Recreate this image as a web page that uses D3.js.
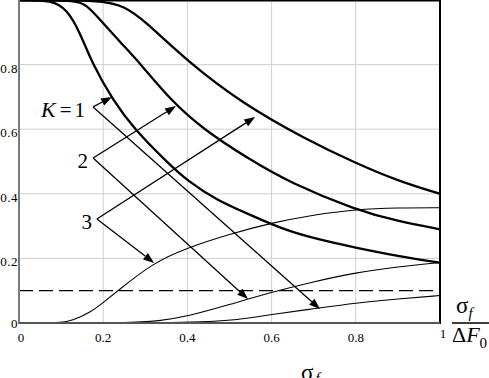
<!DOCTYPE html>
<html>
<head>
<meta charset="utf-8">
<script src="https://cdn.jsdelivr.net/npm/d3@7"></script>
<style>
  body { margin: 0; background: #fff; }
  svg { display: block; }
</style>
</head>
<body>
<div class="chart"></div>
<script>
// ---- data ----
const ticks = [0, 0.2, 0.4, 0.6, 0.8, 1];
const yTickLabels = ['0', '0.2', '0.4', '0.6', '0.8'];
const xTickLabels = ['0', '0.2', '0.4', '0.6', '0.8', '1'];

// thick curves, decreasing
const thickK1 = [[0,1],[0.08,1],[0.114,0.97],[0.145,0.9],[0.173,0.805],[0.223,0.69],[0.274,0.6],[0.35,0.5],[0.4,0.44],[0.47,0.38],[0.549,0.335],[0.627,0.29],[0.7,0.262],[0.8,0.233],[0.9,0.207],[1,0.187]];
const thickK2 = [[0,1],[0.133,1],[0.16,0.985],[0.192,0.94],[0.24,0.87],[0.287,0.805],[0.36,0.69],[0.437,0.6],[0.549,0.505],[0.644,0.434],[0.8,0.35],[0.9,0.315],[1,0.29]];
const thickK3 = [[0,1],[0.2,1],[0.25,0.98],[0.295,0.94],[0.4,0.81],[0.53,0.68],[0.684,0.567],[0.8,0.495],[0.9,0.44],[1,0.4]];

// thin curves, increasing
const thinK3 = [[0,0],[0.097,0],[0.126,0.007],[0.169,0.032],[0.2,0.063],[0.233,0.098],[0.318,0.186],[0.4,0.233],[0.5,0.275],[0.6,0.31],[0.7,0.335],[0.8,0.352],[0.9,0.357],[1,0.357]];
const thinK2 = [[0,0],[0.27,0],[0.33,0.006],[0.4,0.02],[0.5,0.057],[0.596,0.094],[0.7,0.128],[0.8,0.156],[0.9,0.174],[1,0.187]];
const thinK1 = [[0,0],[0.41,0],[0.525,0.01],[0.596,0.026],[0.7,0.044],[0.8,0.062],[0.9,0.075],[1,0.085]];

const threshold = 0.1;

// annotation labels: origin point and arrow tips, in data units
const labels = [
  { italic: 'K', rest: '=1', from: [0.176, 0.669], tips: [[0.221, 0.700], [0.715, 0.043]] },
  { italic: '', rest: '2', from: [0.176, 0.511], tips: [[0.373, 0.672], [0.544, 0.074]] },
  { italic: '', rest: '3', from: [0.185, 0.322], tips: [[0.561, 0.638], [0.321, 0.186]] }
];

// ---- setup ----
const outerW = 489, outerH = 378;
const margin = { left: 19, right: 49, top: 0, bottom: 55 };
const serif = '"Times New Roman", "Liberation Serif", serif';

const x = d3.scaleLinear().domain([0, 1]).range([margin.left, outerW - margin.right]);
const y = d3.scaleLinear().domain([0, 1]).range([outerH - margin.bottom, margin.top]);

const svg = d3.select('.chart').append('svg')
  .attr('width', outerW)
  .attr('height', outerH)
  .attr('font-family', serif);

svg.append('clipPath').attr('id', 'plot')
  .append('rect')
  .attr('x', x(0)).attr('y', y(1))
  .attr('width', x(1) - x(0)).attr('height', y(0) - y(1));

// grid
const grid = svg.append('g').attr('stroke', '#cfcfcf').attr('stroke-width', 1);
grid.selectAll('.vg')
  .data(ticks.slice(1, -1))
  .enter().append('line')
  .attr('x1', d => x(d)).attr('x2', d => x(d))
  .attr('y1', y(0)).attr('y2', y(1));
grid.selectAll('.hg')
  .data(ticks.slice(1, -1))
  .enter().append('line')
  .attr('y1', d => y(d)).attr('y2', d => y(d))
  .attr('x1', x(0)).attr('x2', x(1));

// tick labels
svg.append('g').attr('font-size', 13)
  .selectAll('text')
  .data(yTickLabels)
  .enter().append('text')
  .attr('x', x(0) - 1)
  .attr('y', (d, i) => y(ticks[i]) + (i === 0 ? 5 : 8))
  .attr('text-anchor', 'end')
  .attr('letter-spacing', 0.5)
  .text(d => d);

svg.append('g').attr('font-size', 13)
  .selectAll('text')
  .data(xTickLabels)
  .enter().append('text')
  .attr('x', (d, i) => x(ticks[i]) + (i === 0 ? 2 : i === 5 ? 3 : 0))
  .attr('y', (d, i) => y(0) + (i === 5 ? 15 : 19))
  .attr('text-anchor', 'middle')
  .text(d => d);

// dashed level
svg.append('line')
  .attr('x1', x(0)).attr('x2', x(1))
  .attr('y1', y(threshold)).attr('y2', y(threshold))
  .attr('stroke', '#000').attr('stroke-width', 1.2)
  .attr('stroke-dasharray', '14,6');

// curves
const line = d3.line()
  .x(d => x(d[0]))
  .y(d => y(d[1]))
  .curve(d3.curveBasis);

const curves = svg.append('g').attr('clip-path', 'url(#plot)').attr('fill', 'none').attr('stroke', '#000');

curves.append('g')
  .attr('stroke-width', 2.3)
  .selectAll('path')
  .data([thickK1, thickK2, thickK3])
  .enter().append('path')
  .attr('d', line);

curves.append('g')
  .attr('stroke-width', 1.1)
  .selectAll('path')
  .data([thinK3, thinK2, thinK1])
  .enter().append('path')
  .attr('d', line);

// frame
svg.append('line').attr('x1', x(0)).attr('x2', x(1)).attr('y1', y(1) + 0.8).attr('y2', y(1) + 0.8)
  .attr('stroke', '#000').attr('stroke-width', 1.6);
svg.append('line').attr('x1', x(1)).attr('x2', x(1)).attr('y1', y(1)).attr('y2', y(0) + 1)
  .attr('stroke', '#000').attr('stroke-width', 2);
svg.append('line').attr('x1', x(0)).attr('x2', x(0)).attr('y1', y(1)).attr('y2', y(0) + 1)
  .attr('stroke', '#7a7a7a').attr('stroke-width', 2);
svg.append('line').attr('x1', x(0)).attr('x2', x(1)).attr('y1', y(0)).attr('y2', y(0))
  .attr('stroke', '#555').attr('stroke-width', 2);

// annotations
const ann = svg.append('g');
labels.forEach(l => {
  const ox = x(l.from[0]), oy = y(l.from[1]);
  l.tips.forEach(t => {
    const tx = x(t[0]), ty = y(t[1]);
    const a = Math.atan2(ty - oy, tx - ox);
    const len = 11, hw = 4;
    const bx = tx - len * Math.cos(a), by = ty - len * Math.sin(a);
    ann.append('line')
      .attr('x1', ox).attr('y1', oy).attr('x2', bx).attr('y2', by)
      .attr('stroke', '#000').attr('stroke-width', 1.3);
    ann.append('path')
      .attr('d', `M${tx},${ty}L${bx + hw * Math.sin(a)},${by - hw * Math.cos(a)}L${bx - hw * Math.sin(a)},${by + hw * Math.cos(a)}Z`)
      .attr('fill', '#000');
  });
  ann.append('text')
    .attr('x', ox - 5)
    .attr('y', oy + 10)
    .attr('text-anchor', 'end')
    .attr('font-size', 21)
    .attr('letter-spacing', l.italic ? 3 : 0)
    .text(l.rest);
  if (l.italic) {
    ann.append('text')
      .attr('x', ox - 52)
      .attr('y', oy + 10)
      .attr('font-size', 22)
      .attr('font-style', 'italic')
      .text(l.italic);
  }
});

// axis title on the right: sigma_f / Delta F_0
const frac = svg.append('g');
const fx = x(1) + 12;
const fy = y(0);
const num = frac.append('text').attr('x', fx + 4).attr('y', fy - 10).attr('font-size', 23);
num.append('tspan').text('σ');
num.append('tspan').attr('dy', 5).attr('font-size', 15).attr('font-style', 'italic').text('f');
frac.append('line')
  .attr('x1', fx).attr('x2', outerW).attr('y1', fy).attr('y2', fy)
  .attr('stroke', '#000').attr('stroke-width', 1.3);
const den = frac.append('text').attr('x', fx).attr('y', fy + 19).attr('font-size', 22);
den.append('tspan').text('Δ');
den.append('tspan').attr('font-style', 'italic').text('F');
den.append('tspan').attr('dy', 6).attr('font-size', 15).text('0');

// axis title at the bottom (partly below the edge, as in the source figure)
const bt = svg.append('text').attr('x', x(0.67)).attr('y', outerH + 2).attr('font-size', 23);
bt.append('tspan').text('σ');
bt.append('tspan').attr('dy', 3).attr('dx', 2).attr('font-size', 15).attr('font-style', 'italic').text('f');
</script>
</body>
</html>
